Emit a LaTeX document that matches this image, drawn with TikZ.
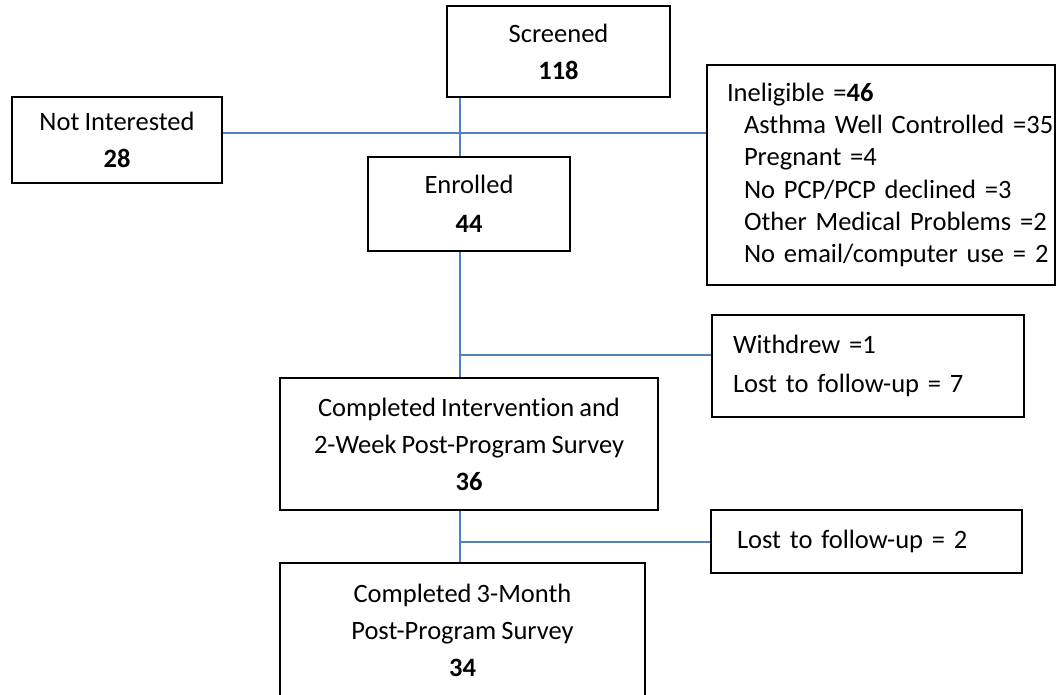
\documentclass[tikz,border=0pt]{standalone}
\usepackage{fontspec}
\setmainfont{Carlito}[Ligatures=NoCommon, WordSpace=0.85]
\definecolor{linkblue}{HTML}{4F81BD}
\tikzset{
  box/.style={draw=black, line width=2.2pt, inner sep=0pt, align=center, rectangle,
    font=\fontsize{26.5}{37}\selectfont},
  listbox/.style={box, align=left, inner xsep=20pt},
  link/.style={draw=linkblue, line width=2pt}
}
\begin{document}
\begin{tikzpicture}[x=1pt,y=-1pt]
\useasboundingbox (0,0) rectangle (1058,694);
\node[box, minimum width=223pt, minimum height=91pt] (screened) at (558.5,51.5) {Screened\\\textbf{118}};
\node[box, minimum width=210pt, minimum height=86pt] (notint) at (117,140) {Not Interested\\\textbf{28}};
\node[listbox, text width=308pt, minimum height=220pt, font=\fontsize{26.5}{32.2}\selectfont] (inelig) at (881,175)
  {\mbox{Ineligible =\textbf{46}}\\
   \mbox{\hspace*{17pt}Asthma Well Controlled =35}\\
   \mbox{\hspace*{17pt}Pregnant =4}\\
   \mbox{\hspace*{17pt}No PCP/PCP declined =3}\\
   \mbox{\hspace*{17pt}Other Medical Problems =2}\\
   \mbox{\hspace*{17pt}No email/computer use = 2}};
\node[box, minimum width=202pt, minimum height=94pt, font=\fontsize{26.5}{39}\selectfont] (enrolled) at (469,204) {Enrolled\\\textbf{44}};
\node[listbox, inner xsep=21pt, text width=270pt, minimum height=102pt, font=\fontsize{26.5}{39}\selectfont] (withdrew) at (868,366) {\mbox{Withdrew =1}\\\mbox{Lost to follow-up = 7}};
\node[box, minimum width=378pt, minimum height=132pt] (comp1) at (469,444) {Completed Intervention and\\2-Week Post-Program Survey\\\textbf{36}};
\node[listbox, inner xsep=26pt, text width=259pt, minimum height=63pt] (lost2) at (866.5,541.5) {\mbox{Lost to follow-up = 2}};
\node[box, minimum width=365pt, minimum height=134pt] (comp3) at (462.5,630) {Completed 3-Month\\Post-Program Survey\\\textbf{34}};
\coordinate (spine) at (460,0);
\coordinate (hl1) at (0,133);
\coordinate (hl2) at (0,355);
\draw[link] (spine |- screened.south) -- (spine |- enrolled.north);
\draw[link] (notint.east |- hl1) -- (inelig.west |- hl1);
\draw[link] (spine |- enrolled.south) -- (spine |- comp1.north);
\draw[link] (spine |- hl2) -- (withdrew.west |- hl2);
\draw[link] (spine |- comp1.south) -- (spine |- comp3.north);
\draw[link] (spine |- lost2.west) -- (lost2.west);
\end{tikzpicture}
\end{document}
